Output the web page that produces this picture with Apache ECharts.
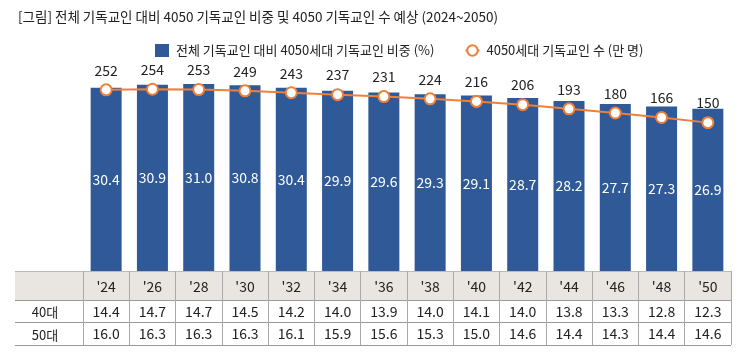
<!DOCTYPE html>
<html><head><meta charset="utf-8">
<script src="https://cdn.jsdelivr.net/npm/echarts@6/dist/echarts.min.js"></script>
<style>html,body{margin:0;padding:0;background:#fff}#c{width:747px;height:363px}</style>
</head><body><div id="c"></div>
<script>
const years = ["'24","'26","'28","'30","'32","'34","'36","'38","'40","'42","'44","'46","'48","'50"];
const shareValues = [30.4,30.9,31.0,30.8,30.4,29.9,29.6,29.3,29.1,28.7,28.2,27.7,27.3,26.9];
const countValues = [252,254,253,249,243,237,231,224,216,206,193,180,166,150];
const row40 = [14.4,14.7,14.7,14.5,14.2,14.0,13.9,14.0,14.1,14.0,13.8,13.3,12.8,12.3];
const row50 = [16.0,16.3,16.3,16.3,16.1,15.9,15.6,15.3,15.0,14.6,14.4,14.3,14.4,14.6];
const rowNames = ['40대','50대'];

const FONT = '"Noto Sans CJK KR", "Noto Sans", sans-serif';
const W = 747, H = 363;
const gL = 83, gR = 16, gTop = 60, gBottom = 271;
const tLeft = 15, hdrBottom = 300, r1Bottom = 322, r2Bottom = 345;
const fmt = v => v.toFixed(1);

const chart = echarts.init(document.getElementById('c'));
chart.setOption({
  animation: false,
  textStyle: {fontFamily: FONT},
  title: {text: '[그림] 전체 기독교인 대비 4050 기독교인 비중 및 4050 기독교인 수 예상 (2024~2050)',
    left: 13, top: 5, textStyle: {fontSize: 13.5, fontWeight: 'normal', color: '#222', fontFamily: FONT}},
  legend: {left: 150, top: 39, itemGap: 30, itemWidth: 14, itemHeight: 13,
    textStyle: {fontSize: 13, color: '#222', fontFamily: FONT, padding: [0,0,0,2]},
    data: [{name: '전체 기독교인 대비 4050세대 기독교인 비중 (%)', icon: 'rect'},
           {name: '4050세대 기독교인 수 (만 명)'}]},
  grid: [
    {left: gL, right: gR, top: gTop, bottom: H - gBottom, outerBoundsMode: 'none'},
    {left: gL, right: gR, top: gBottom, bottom: H - r2Bottom, outerBoundsMode: 'none'}
  ],
  xAxis: [
    {type: 'category', gridIndex: 0, position: 'bottom', data: years, axisLine: {show: false}, axisTick: {show: false},
      axisLabel: {margin: 16, verticalAlign: 'middle', fontSize: 14, color: '#222', fontFamily: FONT}},
    {type: 'category', gridIndex: 0, position: 'bottom', data: row40.map(fmt), axisLine: {show: false}, axisTick: {show: false},
      axisLabel: {margin: 41, verticalAlign: 'middle', fontSize: 14, color: '#222', fontFamily: FONT}},
    {type: 'category', gridIndex: 0, position: 'bottom', data: row50.map(fmt), axisLine: {show: false}, axisTick: {show: false},
      axisLabel: {margin: 63, verticalAlign: 'middle', fontSize: 14, color: '#222', fontFamily: FONT}},
    {type: 'category', gridIndex: 1, position: 'bottom', data: years, axisLine: {show: false}, axisTick: {show: false},
      axisLabel: {show: false}, splitLine: {show: true, interval: 0, lineStyle: {color: '#aaa', width: 1}}}
  ],
  yAxis: [
    {type: 'value', gridIndex: 0, min: 0, max: 35, show: false},
    {type: 'value', gridIndex: 0, min: -312, max: 345, show: false},
    {type: 'value', gridIndex: 1, show: false}
  ],
  graphic: [
    {type: 'rect', z: -10, shape: {x: tLeft, y: gBottom, width: W - gR - tLeft, height: hdrBottom - gBottom}, style: {fill: '#e9e6e2'}},
    {type: 'line', shape: {x1: tLeft, y1: gBottom + 0.5, x2: W - gR, y2: gBottom + 0.5}, style: {stroke: '#bbb', lineWidth: 1}},
    {type: 'line', shape: {x1: tLeft, y1: hdrBottom + 0.5, x2: W - gR, y2: hdrBottom + 0.5}, style: {stroke: '#999', lineWidth: 1}},
    {type: 'line', shape: {x1: tLeft, y1: r1Bottom + 0.5, x2: W - gR, y2: r1Bottom + 0.5}, style: {stroke: '#999', lineWidth: 1}},
    {type: 'line', shape: {x1: tLeft, y1: r2Bottom + 0.5, x2: W - gR, y2: r2Bottom + 0.5}, style: {stroke: '#999', lineWidth: 1}},
    {type: 'text', style: {text: rowNames[0], x: 45, y: (hdrBottom + r1Bottom) / 2 + 1.5, align: 'center', verticalAlign: 'middle', font: '13px ' + FONT, fill: '#222'}},
    {type: 'text', style: {text: rowNames[1], x: 45, y: (r1Bottom + r2Bottom) / 2 + 1.5, align: 'center', verticalAlign: 'middle', font: '13px ' + FONT, fill: '#222'}}
  ],
  series: [
    {name: '전체 기독교인 대비 4050세대 기독교인 비중 (%)', type: 'bar', xAxisIndex: 0, yAxisIndex: 0,
      data: shareValues, barWidth: 31, itemStyle: {color: '#2f5a97'},
      label: {show: true, position: 'inside', color: '#fff', fontSize: 14, fontFamily: FONT, formatter: p => fmt(p.value)}},
    {name: '4050세대 기독교인 수 (만 명)', type: 'line', xAxisIndex: 0, yAxisIndex: 1,
      data: countValues, symbol: 'circle', symbolSize: 11,
      lineStyle: {color: '#f07f3a', width: 2},
      itemStyle: {color: '#fff', borderColor: '#f07f3a', borderWidth: 2},
      label: {show: true, position: 'top', distance: 6, color: '#222', fontSize: 14, fontFamily: FONT}}
  ]
});
</script></body></html>
